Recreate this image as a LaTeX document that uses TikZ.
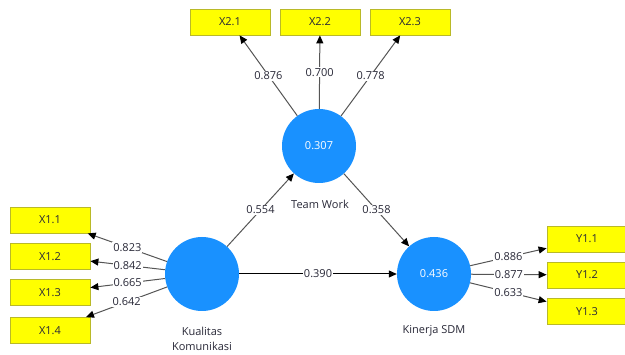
\documentclass[tikz,border=0pt]{standalone}
\usepackage{fontspec}
\setmainfont{Open Sans}
\usetikzlibrary{arrows.meta}
\definecolor{lvblue}{RGB}{25,145,255}
\definecolor{mvyellow}{RGB}{255,255,0}
\definecolor{mvborder}{RGB}{185,185,40}
\definecolor{linegray}{RGB}{85,85,85}
\definecolor{txtdark}{RGB}{40,40,55}
\begin{document}
\begin{tikzpicture}[x=1pt,y=-1pt,
  font=\fontsize{11}{13}\selectfont,
  latent/.style={circle,fill=lvblue,minimum size=74pt,inner sep=0pt,text=white},
  manifest/.style={rectangle,fill=mvyellow,draw=mvborder,line width=0.8pt,minimum width=80pt,minimum height=26pt,inner sep=0pt,text=txtdark},
  loading/.style={draw=linegray,line width=1pt,-{Triangle[length=8pt,width=7pt,color=black]}},
  pathline/.style={draw=linegray,line width=1pt,-{Triangle[length=8pt,width=7pt,color=black]}},
  mainpath/.style={draw=black,line width=1pt,-{Triangle[length=8pt,width=7pt,color=black]}},
  wlabel/.style={fill=white,inner sep=1pt,text=txtdark,pos=0.5},
  lvname/.style={text=txtdark,align=center,font=\fontsize{11}{15}\selectfont}]
\useasboundingbox (0,0) rectangle (625,355);
% latent variables
\node[latent] (TW) at (319,146) {0.307};
\node[latent] (KK) at (202,274) {};
\node[latent] (KS) at (434,274) {0.436};
% names
\node[lvname] (TWn) at (320,204) {Team Work};
\node[lvname] (KKn) at (202,339) {Kualitas\\Komunikasi};
\node[lvname] (KSn) at (434,331) {Kinerja SDM};
% indicators
\node[manifest] (X21) at (230,22) {X2.1};
\node[manifest] (X22) at (320,22) {X2.2};
\node[manifest] (X23) at (410,22) {X2.3};
\node[manifest] (X11) at (50,220) {X1.1};
\node[manifest] (X12) at (50,256.5) {X1.2};
\node[manifest] (X13) at (50,292.5) {X1.3};
\node[manifest] (X14) at (50,330.5) {X1.4};
\node[manifest] (Y11) at (587,239) {Y1.1};
\node[manifest] (Y12) at (587,275) {Y1.2};
\node[manifest] (Y13) at (587,311.5) {Y1.3};
% loadings
\draw[loading] (TW) -- node[wlabel] {0.876} (X21);
\draw[loading] (TW) -- node[wlabel] {0.700} (X22);
\draw[loading] (TW) -- node[wlabel] {0.778} (X23);
\draw[loading] (KK) -- node[wlabel] {0.823} (X11);
\draw[loading] (KK) -- node[wlabel] {0.842} (X12);
\draw[loading] (KK) -- node[wlabel] {0.665} (X13);
\draw[loading] (KK) -- node[wlabel] {0.642} (X14);
\draw[loading] (KS) -- node[wlabel] {0.886} (Y11);
\draw[loading] (KS) -- node[wlabel] {0.877} (Y12);
\draw[loading] (KS) -- node[wlabel] {0.633} (Y13);
% structural paths
\draw[pathline] (KK) -- node[wlabel] {0.554} (TW);
\draw[pathline] (TW) -- node[wlabel] {0.358} (KS);
\draw[mainpath] (KK) -- node[wlabel] {0.390} (KS);
\end{tikzpicture}
\end{document}
